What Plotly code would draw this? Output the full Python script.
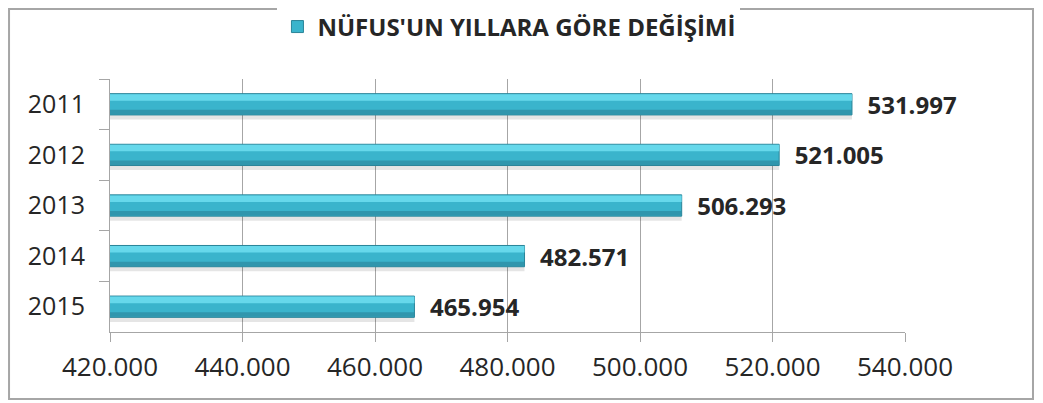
"""
Nüfus yıllara göre değişimi - yatay çubuk grafik
"""

import plotly.graph_objects as go

# ===== Veri =====
YEARS = ["2011", "2012", "2013", "2014", "2015"]
POPULATION = [531997, 521005, 506293, 482571, 465954]
TICK_VALUES = [420000, 440000, 460000, 480000, 500000, 520000, 540000]
TITLE = "NÜFUS'UN YILLARA GÖRE DEĞİŞİMİ"

# ===== Stil =====
FONT = "Open Sans"
BAR_COLOR = "#3AB4CC"
BAR_LINE = "#2A8498"
HIGHLIGHT = "#6BDCEE"
BAR_DARK = "#2E8FA5"
GRID = "#A6A6A6"
TEXT = "#262626"

fig = go.Figure()

# gölge
fig.add_trace(go.Bar(
    y=YEARS, x=POPULATION, orientation="h",
    width=0.1, offset=0.2,
    marker=dict(color="rgba(0,0,0,0.10)", line=dict(width=0)),
    showlegend=False, hoverinfo="skip",
))

# ana çubuk
fig.add_trace(go.Bar(
    y=YEARS, x=POPULATION, orientation="h",
    name=TITLE,
    width=0.42, offset=-0.21,
    marker=dict(color=BAR_COLOR, line=dict(color=BAR_LINE, width=1)),
    texttemplate="\u00a0\u00a0%{x:,}",
    textposition="outside",
    constraintext="none",
    textfont=dict(family=FONT, size=24, color=TEXT, weight="bold"),
    cliponaxis=False,
))

# üst parlaklık
fig.add_trace(go.Bar(
    y=YEARS, x=POPULATION, orientation="h",
    width=0.13, offset=-0.2,
    marker=dict(color=HIGHLIGHT, line=dict(width=0), opacity=0.9),
    showlegend=False, hoverinfo="skip",
))

# alt koyu şerit
fig.add_trace(go.Bar(
    y=YEARS, x=POPULATION, orientation="h",
    width=0.09, offset=0.11,
    marker=dict(color=BAR_DARK, line=dict(width=0), opacity=0.8),
    showlegend=False, hoverinfo="skip",
))

# sayfa gövdesi 8px kenar boşluğu bırakıyor, ölçüler buna göre
fig.update_layout(
    width=1035, height=395,
    barmode="overlay",
    separators=",.",
    paper_bgcolor="white", plot_bgcolor="white",
    margin=dict(l=102, r=138, t=71, b=71, autoexpand=False),
    font=dict(family=FONT, color=TEXT),
    showlegend=True,
    legend=dict(
        orientation="h",
        xref="container", yref="container",
        x=0.484, y=0.952, xanchor="center", yanchor="middle",
        font=dict(family=FONT, size=24, color=TEXT, weight="bold"),
        itemwidth=30,
    ),
    shapes=[dict(
        type="rect", xref="paper", yref="paper",
        x0=-0.127, x1=1.161, y0=-0.265, y1=1.277,
        line=dict(color=GRID, width=2),
    )],
)

fig.update_xaxes(
    range=[420000, 540000],
    tickvals=TICK_VALUES, tickformat=",",
    showgrid=True, gridcolor=GRID, gridwidth=1,
    showline=True, linecolor=GRID, linewidth=1,
    ticks="outside", ticklen=9, tickcolor=GRID,
    tickfont=dict(family=FONT, size=26, color=TEXT),
    ticklabelstandoff=3,
    zeroline=False, automargin=False,
)
fig.update_yaxes(
    autorange="reversed",
    showline=True, linecolor=GRID, linewidth=1,
    ticks="outside", ticklen=10, tickcolor=GRID,
    tickson="boundaries",
    tickfont=dict(family=FONT, size=25, color=TEXT),
    ticklabelstandoff=19,
    showgrid=False, automargin=False,
)

fig.write_html("out.html")
